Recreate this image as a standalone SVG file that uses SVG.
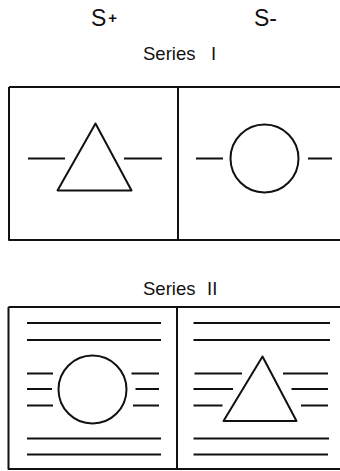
<svg xmlns="http://www.w3.org/2000/svg" width="340" height="471" viewBox="0 0 340 471">
<style>
.t{font-family:"Liberation Sans",Arial,sans-serif;fill:#111}
.s{fill:none;stroke:#111;stroke-width:2;stroke-linejoin:round}
.l{stroke:#111;stroke-width:2}
</style>
<rect width="340" height="471" fill="#fff"/>
<g id="headers">
<text class="t" x="91" y="26" font-size="23">S<tspan font-size="15" font-weight="bold" dx="2" dy="-3">+</tspan></text>
<text class="t" x="254" y="26" font-size="23">S-</text>
</g>
<g id="series1">
<text class="t" x="143" y="60" font-size="18.5">Series<tspan x="211">I</tspan></text>
<path class="s" d="M9,87 H340 M9,87 V240 H340 M178,87 V240"/>
<g id="s1-plus">
<polygon class="s" points="95.5,123.5 57.5,190.5 131.5,190.5"/>
<path class="l" d="M28,158.5 H65 M124,158.5 H162"/>
</g>
<g id="s1-minus">
<circle class="s" cx="264.5" cy="158.5" r="34"/>
<path class="l" d="M196,158.5 H223 M308,158.5 H332"/>
</g>
</g>
<g id="series2">
<text class="t" x="143" y="295" font-size="18.5">Series<tspan x="207">II</tspan></text>
<path class="s" d="M8.5,307 H340 M8.5,307 V469 H340 M177,307 V469"/>
<g id="s2-plus">
<circle class="s" cx="92.5" cy="389.5" r="34"/>
<path class="l" d="M27,323 H161 M27,340 H161 M27,438.5 H161 M27,454.5 H161 M27,373.5 H53 M27,389 H52 M27,405.5 H53 M131.5,373.5 H159 M135.5,389 H159 M133,405.5 H159"/>
</g>
<g id="s2-minus">
<polygon class="s" points="262.5,356.5 223.5,421 296.5,421"/>
<path class="l" d="M193.5,323 H330 M193.5,340 H330 M193.5,438.5 H329 M193.5,454.5 H328 M194.5,373.5 H242 M193.5,389 H233 M193.5,405.5 H222.5 M283,373.5 H328 M291.5,389 H328 M301,405.5 H328"/>
</g>
</g>
</svg>
